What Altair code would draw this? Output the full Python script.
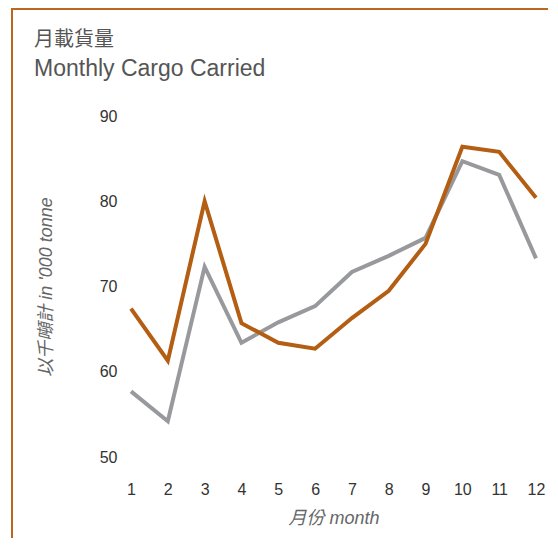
import altair as alt
import pandas as pd

months = list(range(1, 13))
series_orange = [67.4, 61.3, 80.0, 65.7, 63.4, 62.7, 66.3, 69.5, 75.0, 86.4, 85.8, 80.4]
series_gray = [57.7, 54.2, 72.3, 63.4, 65.8, 67.7, 71.7, 73.6, 75.7, 84.7, 83.1, 73.3]
series_names = ["A", "B"]
series_colors = ["#b35e12", "#98999c"]
y_ticks = [50, 60, 70, 80, 90]
title_zh = "月載貨量"
title_en = "Monthly Cargo Carried"

rows = []
for m, a, b in zip(months, series_orange, series_gray):
    rows.append({"month": m, "value": b, "series": series_names[1]})
    rows.append({"month": m, "value": a, "series": series_names[0]})
df = pd.DataFrame(rows)

W, H = 405, 341
PAD_L, PAD_T = 123, 108
TOTAL_W, TOTAL_H = 540, 530
MIXED_FONT = "Liberation Sans, Noto Sans CJK TC"

lines = alt.Chart(df).mark_line(strokeWidth=4, strokeJoin="miter", strokeCap="butt").encode(
    x=alt.X("month:Q", scale=alt.Scale(domain=[1, 12], nice=False, zero=False),
            axis=alt.Axis(values=months, format="d", title="月份 month",
                          domain=False, ticks=False, grid=False, labelFlush=False,
                          labelPadding=24, titlePadding=12)),
    y=alt.Y("value:Q", scale=alt.Scale(domain=[50, 90], nice=False, zero=False),
            axis=alt.Axis(values=y_ticks, title="以千噸計  in '000 tonne",
                          domain=False, ticks=False, grid=False, labelFlush=False,
                          labelPadding=14, titlePadding=44)),
    color=alt.Color("series:N", scale=alt.Scale(domain=series_names, range=series_colors), legend=None),
    order=alt.Order("series:N", sort="descending"),
)

one = alt.Data(values=[{}])
frame_left = alt.Chart(one).mark_rule(color="#b8691f", strokeWidth=2).encode(
    x=alt.value(-119), y=alt.value(-108), y2=alt.value(TOTAL_H - PAD_T))
frame_top = alt.Chart(one).mark_rule(color="#b8691f", strokeWidth=2).encode(
    x=alt.value(-120), x2=alt.value(TOTAL_W - PAD_L), y=alt.value(-107))

t1 = alt.Chart(one).mark_text(text=title_zh, align="left", baseline="middle",
                              font="Noto Sans CJK TC", fontSize=20, color="#555555").encode(
    x=alt.value(-97), y=alt.value(-76))
t2 = alt.Chart(one).mark_text(text=title_en, align="left", baseline="alphabetic",
                              font="Liberation Sans", fontSize=23, color="#555555").encode(
    x=alt.value(-97), y=alt.value(-40))

chart = alt.layer(frame_left, frame_top, t1, t2, lines).properties(
    width=W, height=H,
    autosize="none",
    padding={"left": PAD_L, "top": PAD_T, "right": TOTAL_W - PAD_L - W, "bottom": TOTAL_H - PAD_T - H},
).configure_view(stroke=None).configure_axis(
    labelFont="Liberation Sans", labelFontSize=16, labelColor="#333333",
    titleFont=MIXED_FONT, titleFontSize=18, titleFontStyle="italic",
    titleFontWeight="normal", titleColor="#666666",
)

chart.save("out.html", embed_options={"renderer": "svg", "actions": False})
